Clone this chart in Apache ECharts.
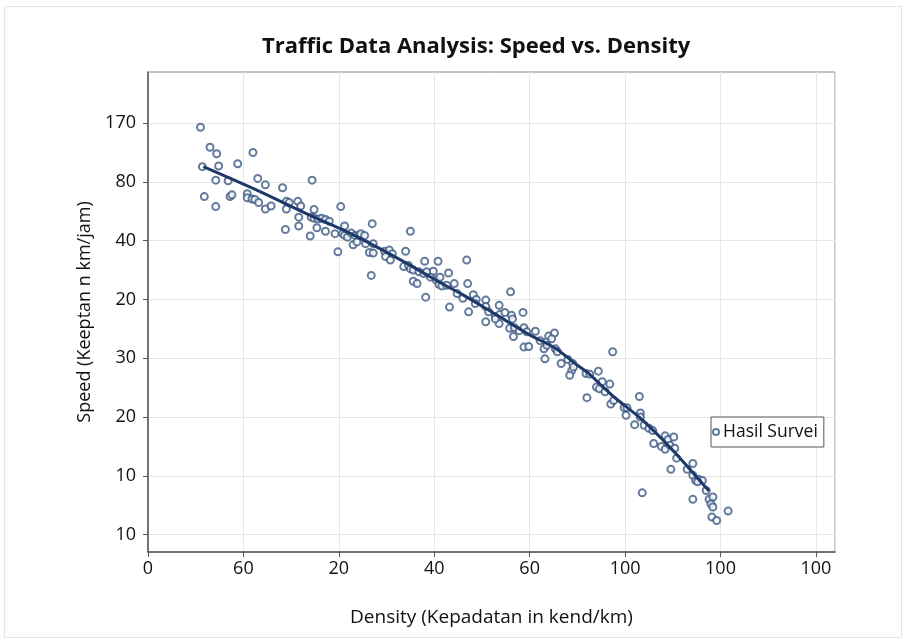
<!DOCTYPE html>
<html>
<head>
<meta charset="utf-8">
<script src="https://cdn.jsdelivr.net/npm/echarts@6/dist/echarts.min.js"></script>
<style>
  html, body { margin: 0; padding: 0; background: #fff; }
  #chart { width: 907px; height: 642px; }
</style>
</head>
<body>
<div id="chart"></div>
<script>
// tick labels as printed on the original chart (positions are tick indexes)
const xTickLabels = ['0', '60', '20', '40', '60', '100', '100', '100'];
const yTickLabels = ['10', '10', '20', '30', '20', '40', '80', '170'];

// survey points (in tick-index units)
const surveyDensity = [
  0.55, 0.65, 0.72, 1.10, 0.57, 0.74, 0.94, 0.71, 0.84, 1.15,
  1.23, 1.41, 1.72, 0.59, 0.71, 0.86, 0.88, 1.04, 1.04, 1.09,
  1.12, 1.16, 1.23, 1.29, 1.45, 1.48, 1.45, 1.57, 1.60, 1.58,
  1.74, 1.71, 1.74, 1.78, 1.77, 1.58, 1.44, 1.70, 1.82, 1.86,
  1.90, 1.86, 2.02, 2.06, 1.96, 2.04, 2.06, 2.09, 2.13, 2.17,
  2.21, 2.23, 2.27, 2.15, 2.19, 2.28, 2.36, 2.35, 1.99, 2.32,
  2.36, 2.48, 2.53, 2.56, 2.49, 2.54, 2.34, 2.70, 2.75, 2.68,
  2.73, 2.75, 2.78, 2.84, 2.89, 2.92, 2.90, 3.04, 2.99, 2.78,
  2.82, 2.96, 3.02, 3.05, 2.91, 3.34, 3.15, 3.06, 3.08, 3.13,
  3.21, 3.35, 3.16, 3.24, 3.30, 3.41, 3.44, 3.43, 3.36, 3.54,
  3.54, 3.57, 3.54, 3.68, 3.64, 3.69, 3.74, 3.68, 3.80, 3.81,
  3.82, 3.79, 3.84, 3.83, 3.93, 3.89, 3.94, 3.97, 4.06, 3.94,
  3.99, 4.11, 4.18, 4.20, 4.26, 4.23, 4.15, 4.16, 4.27, 4.29,
  4.33, 4.40, 4.45, 4.44, 4.42, 4.46, 4.87, 4.59, 4.63, 4.60,
  4.72, 4.70, 4.73, 4.76, 4.79, 4.84, 4.85, 4.88, 4.99, 5.02,
  5.01, 5.10, 5.15, 5.16, 5.16, 5.20, 5.18, 5.25, 5.29, 5.30,
  5.38, 5.42, 5.42, 5.45, 5.51, 5.47, 5.52, 5.54, 5.48, 5.65,
  5.71, 5.71, 5.74, 5.77, 5.81, 5.76, 5.85, 5.71, 5.88, 5.92,
  5.90, 5.92, 5.91, 5.96, 6.08, 4.18, 3.64
];
const surveySpeed = [
  6.93, 6.59, 6.48, 6.50, 6.26, 6.27, 6.31, 6.03, 6.02, 6.06,
  5.95, 5.90, 6.03, 5.75, 5.58, 5.75, 5.78, 5.80, 5.73, 5.71,
  5.70, 5.65, 5.54, 5.59, 5.67, 5.65, 5.54, 5.67, 5.59, 5.40,
  5.53, 5.40, 5.38, 5.37, 5.22, 5.25, 5.19, 5.08, 5.38, 5.36,
  5.33, 5.16, 5.58, 5.25, 5.12, 5.12, 5.09, 5.06, 5.13, 5.09,
  5.09, 5.12, 5.09, 4.93, 4.98, 4.95, 4.95, 5.29, 4.81, 4.80,
  4.79, 4.82, 4.84, 4.78, 4.73, 4.67, 4.41, 4.82, 5.16, 4.56,
  4.58, 4.52, 4.50, 4.47, 4.44, 4.47, 4.65, 4.65, 4.48, 4.31,
  4.27, 4.38, 4.33, 4.26, 4.04, 4.67, 4.45, 4.38, 4.23, 4.24,
  4.27, 4.27, 3.87, 4.10, 4.02, 4.08, 4.00, 3.93, 3.79, 3.99,
  3.88, 3.79, 3.62, 3.90, 3.71, 3.75, 3.78, 3.59, 4.13, 3.73,
  3.67, 3.51, 3.52, 3.37, 3.78, 3.47, 3.52, 3.45, 3.46, 3.19,
  3.20, 3.30, 3.28, 3.38, 3.43, 3.33, 3.16, 2.99, 3.16, 3.11,
  2.91, 2.98, 2.91, 2.79, 2.71, 2.85, 3.11, 2.74, 2.73, 2.33,
  2.78, 2.51, 2.48, 2.60, 2.43, 2.56, 2.22, 2.28, 2.16, 2.16,
  2.03, 1.87, 2.35, 2.07, 2.00, 1.86, 0.71, 1.81, 1.77, 1.55,
  1.50, 1.45, 1.68, 1.62, 1.66, 1.52, 1.47, 1.30, 1.11, 1.11,
  1.21, 1.01, 0.92, 0.94, 0.92, 0.90, 0.75, 0.60, 0.60, 0.64,
  0.52, 0.47, 0.30, 0.24, 0.40, 3.22, 3.67
];

// fitted trend curve
const trendDensity = [0.58, 1.14, 1.70, 2.05, 2.40, 2.75, 3.06, 3.31, 3.66, 4.01, 4.27, 4.46, 4.62, 4.77, 4.90, 5.16, 5.48, 5.69, 5.88];
const trendSpeed = [6.26, 5.86, 5.43, 5.18, 4.89, 4.58, 4.29, 4.07, 3.73, 3.39, 3.17, 2.93, 2.74, 2.51, 2.32, 1.98, 1.47, 1.09, 0.74];

const font = '"Open Sans", "Noto Sans", sans-serif';
const yTickValues = yTickLabels.map((_, i) => i);

const chart = echarts.init(document.getElementById('chart'));

chart.setOption({
  animation: false,
  backgroundColor: '#fff',
  title: {
    text: 'Traffic Data Analysis: Speed vs. Density',
    left: 257,
    top: 31,
    textStyle: { fontFamily: font, fontSize: 22, fontWeight: 'bold', color: '#111' },
  },
  graphic: [{
    type: 'rect',
    shape: { x: 4.5, y: 6.5, width: 897, height: 631 },
    style: { fill: 'none', stroke: '#e4e4e4', lineWidth: 1 },
    silent: true,
  }],
  legend: {
    left: 711,
    top: 417,
    orient: 'vertical',
    data: [{ name: 'Hasil Survei', icon: 'emptyCircle' }],
    itemWidth: 6,
    itemHeight: 6,
    itemGap: 0,
    padding: [6, 6, 6, 1],
    borderColor: '#555',
    borderWidth: 1,
    borderRadius: 0,
    backgroundColor: '#fff',
    textStyle: { fontFamily: font, fontSize: 17.5, color: '#111', padding: [0, 0, 0, -1] },
  },
  grid: {
    left: 148,
    right: 72,
    top: 72,
    bottom: 90,
    show: true,
    borderColor: '#888',
    borderWidth: 1,
    containLabel: false,
  },
  xAxis: {
    type: 'value',
    min: 0,
    max: 7.2,
    interval: 1,
    name: 'Density (Kepadatan in kend/km)',
    nameLocation: 'middle',
    nameGap: 56,
    nameTextStyle: { fontFamily: font, fontSize: 19, color: '#111' },
    axisLine: { show: true, onZero: false, lineStyle: { color: '#555', width: 1.5 } },
    axisTick: { show: true, length: 5, lineStyle: { color: '#555' } },
    axisLabel: {
      fontFamily: font,
      fontSize: 18,
      color: '#111',
      margin: 8,
      showMaxLabel: false,
      formatter: (v) => xTickLabels[Math.round(v)] ?? '',
    },
    splitLine: { show: true, lineStyle: { color: '#e6e6e6', width: 1 } },
  },
  yAxis: {
    type: 'value',
    min: -0.296,
    max: 7.87,
    name: 'Speed (Keeptan n km/jam)',
    nameLocation: 'middle',
    nameGap: 49,
    nameTextStyle: { fontFamily: font, fontSize: 18, color: '#111' },
    axisLine: { show: true, onZero: false, lineStyle: { color: '#555', width: 1.5 } },
    axisTick: { show: true, length: 5, lineStyle: { color: '#555' }, customValues: yTickValues },
    axisLabel: {
      fontFamily: font,
      fontSize: 18,
      color: '#111',
      margin: 12,
      customValues: yTickValues,
      formatter: (v) => yTickLabels[Math.round(v)] ?? '',
    },
    splitLine: { show: true, lineStyle: { color: '#e6e6e6', width: 1 } },
  },
  series: [
    {
      name: 'Hasil Survei',
      type: 'scatter',
      symbol: 'emptyCircle',
      symbolSize: 7,
      itemStyle: { color: '#3d5a85', borderColor: '#3d5a85', borderWidth: 0.8 },
      data: surveyDensity.map((d, i) => [d, surveySpeed[i]]),
      z: 2,
    },
    {
      name: 'trend',
      type: 'line',
      showSymbol: false,
      smooth: 0.3,
      lineStyle: { color: '#1c3968', width: 3 },
      data: trendDensity.map((d, i) => [d, trendSpeed[i]]),
      z: 3,
    },
  ],
});
</script>
</body>
</html>
